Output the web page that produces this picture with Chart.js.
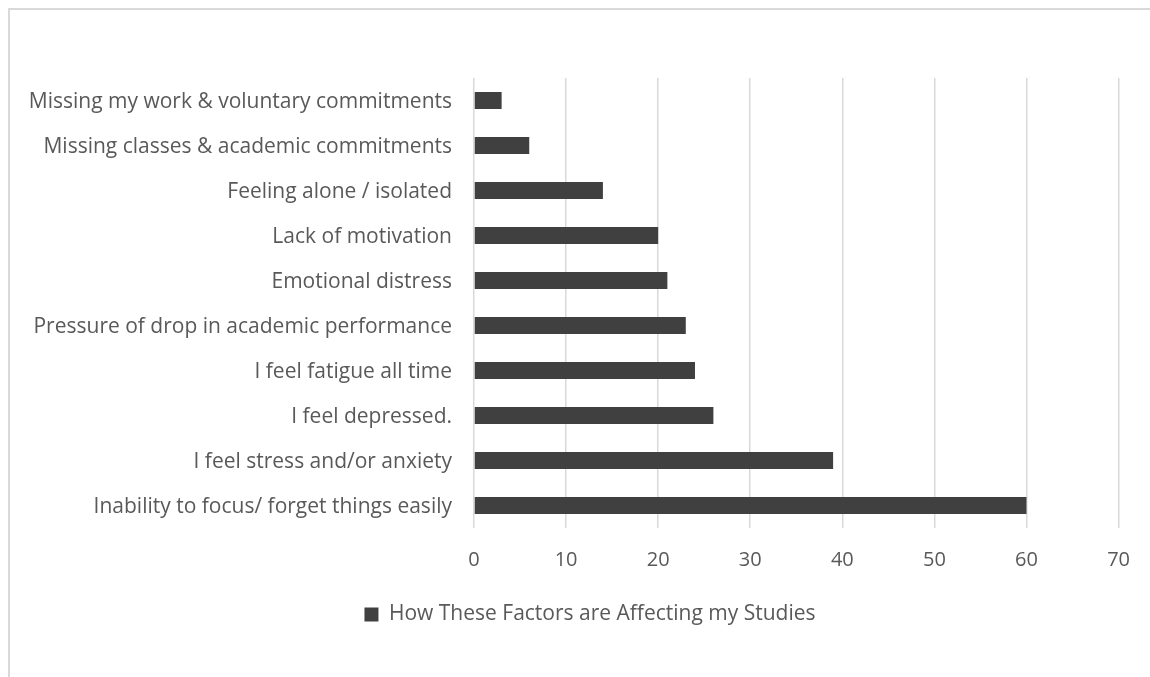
<!DOCTYPE html>
<html>
<head>
<meta charset="utf-8">
<script src="https://cdn.jsdelivr.net/npm/chart.js@4/dist/chart.umd.min.js"></script>
<style>
  html, body { margin: 0; padding: 0; background: #ffffff; }
  #wrap { position: relative; width: 1150px; height: 677px; overflow: hidden; }
  #frame { position: absolute; left: 8px; top: 8px; width: 1200px; height: 700px; border-left: 2px solid #d9d9d9; border-top: 2px solid #d9d9d9; box-sizing: border-box; }
  canvas { position: absolute; left: 0; top: 0; }
</style>
</head>
<body>
<div id="wrap">
  <div id="frame"></div>
  <canvas id="c" width="1150" height="677"></canvas>
</div>
<script>
const categories = [
  "Missing my work & voluntary commitments",
  "Missing classes & academic commitments",
  "Feeling alone / isolated",
  "Lack of motivation",
  "Emotional distress",
  "Pressure of drop in academic performance",
  "I feel fatigue all time",
  "I feel depressed.",
  "I feel stress and/or anxiety",
  "Inability to focus/ forget things easily"
];
const seriesName = "How These Factors are Affecting my Studies";
const values = [3, 6, 14, 20, 21, 23, 24, 26, 39, 60];
const xTicks = [0, 10, 20, 30, 40, 50, 60, 70];

const FONT = "'Open Sans', 'Liberation Sans', sans-serif";
const TEXT = "#595959";

const shiftLegend = {
  id: 'shiftLegend',
  afterLayout(chart) {
    if (chart.legend) { chart.legend.left += 30; chart.legend.right += 30; }
  }
};

new Chart(document.getElementById('c'), {
  type: 'bar',
  data: {
    labels: categories,
    datasets: [{
      label: seriesName,
      data: values,
      backgroundColor: '#404040',
      borderWidth: 0,
      categoryPercentage: 1.0,
      barPercentage: 0.38
    }]
  },
  plugins: [shiftLegend],
  options: {
    indexAxis: 'y',
    responsive: false,
    animation: false,
    devicePixelRatio: 1,
    layout: { padding: { top: 78, right: 30, bottom: 42, left: 0 } },
    plugins: {
      tooltip: { enabled: false },
      legend: {
        position: 'bottom',
        labels: {
          color: TEXT,
          font: { family: FONT, size: 21 },
          boxWidth: 14,
          boxHeight: 14,
          padding: 10
        }
      }
    },
    scales: {
      x: {
        min: 0,
        max: 70,
        afterBuildTicks: (s) => { s.ticks = xTicks.map(v => ({ value: v })); },
        afterFit: (s) => { s.height = 66; },
        grid: { color: '#d9d9d9', lineWidth: 1.5, drawTicks: false },
        border: { display: false },
        ticks: {
          color: TEXT,
          font: { family: FONT, size: 20 },
          padding: 20
        }
      },
      y: {
        afterFit: (s) => { s.width = 474; },
        grid: { display: false, drawTicks: false },
        border: { display: false },
        ticks: {
          color: TEXT,
          font: { family: FONT, size: 21 },
          padding: 22,
          labelOffset: 1.5,
          autoSkip: false
        }
      }
    }
  }
});
</script>
</body>
</html>
